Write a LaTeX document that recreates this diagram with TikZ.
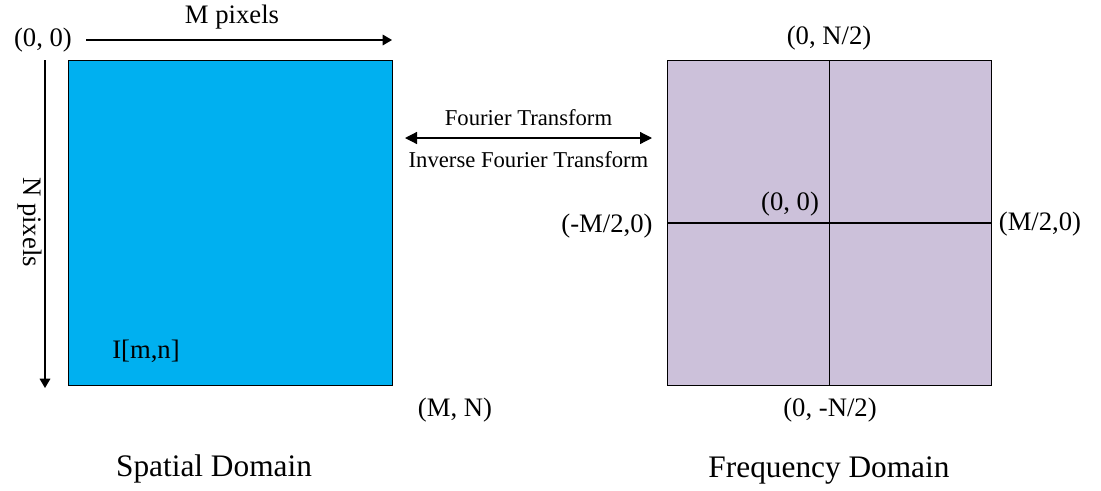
\documentclass[tikz,border=0pt]{standalone}
\usepackage{fontspec}
\setmainfont{Liberation Serif}
\usetikzlibrary{positioning, arrows.meta}

\definecolor{spatialblue}{HTML}{00B0F0}
\definecolor{freqlilac}{HTML}{CCC1DA}

\begin{document}
\begin{tikzpicture}[
        x=0.75pt, y=-0.75pt,
        plane/.style={draw, line width=0.9pt, rectangle, anchor=north west, minimum width=243pt, minimum height=243.5pt, inner sep=0pt},
        lbl/.style={font=\fontsize{20}{22}\selectfont, inner sep=1pt},
        small/.style={font=\fontsize{17}{19}\selectfont, inner sep=1pt},
        title/.style={font=\fontsize{23.5}{26}\selectfont, inner sep=1pt},
        arrow/.style={-{Triangle[length=7pt, width=8pt]}, line width=0.9pt},
        twoway/.style={{Triangle[length=9pt, width=9pt]}-{Triangle[length=9pt, width=9pt]}, line width=0.9pt}
    ]
    \useasboundingbox (0,0) rectangle (1101,490);

    % spatial domain
    \node[plane, fill=spatialblue] (spatial) at (68,60) {};
    \node[lbl] (origin) at (43,40) {(0, 0)};
    \node[lbl] (mpix) at (232,17) {M pixels};
    \node[lbl, rotate=-90] (npix) at (30,222) {N pixels};
    \node[lbl] (img) at (146,351) {I[m,n]};
    \node[lbl] (corner) at (455,410) {(M, N)};
    \node[title] (spatialname) at (214,469) {Spatial Domain};
    \coordinate (mstart) at (86,40);
    \coordinate (mend) at (392,40);
    \coordinate (nstart) at (45,60);
    \coordinate (nend) at (45,388);

    \draw[arrow] (mstart) -- (mend);
    \draw[arrow] (nstart) -- (nend);

    % frequency domain
    \node[plane, fill=freqlilac] (freq) at (667,60) {};
    \draw[line width=0.9pt] (freq.north) -- (freq.south);
    \draw[line width=0.9pt] (freq.west) -- (freq.east);
    \node[lbl] (ftop) at (829,38) {(0, N/2)};
    \node[lbl] (fcentre) at (790,204) {(0, 0)};
    \node[lbl] (fleft) at (607,226) {(-M/2,0)};
    \node[lbl] (fright) at (1040,224) {(M/2,0)};
    \node[lbl] (fbottom) at (830,410) {(0, -N/2)};
    \node[title] (freqname) at (829,471) {Frequency Domain};

    % transform between them
    \coordinate (tleft) at (405,138);
    \coordinate (tright) at (652,138);
    \draw[twoway] (tleft) -- node[small, above=8pt] {Fourier Transform} node[small, below=9pt] {Inverse Fourier Transform} (tright);
\end{tikzpicture}
\end{document}
